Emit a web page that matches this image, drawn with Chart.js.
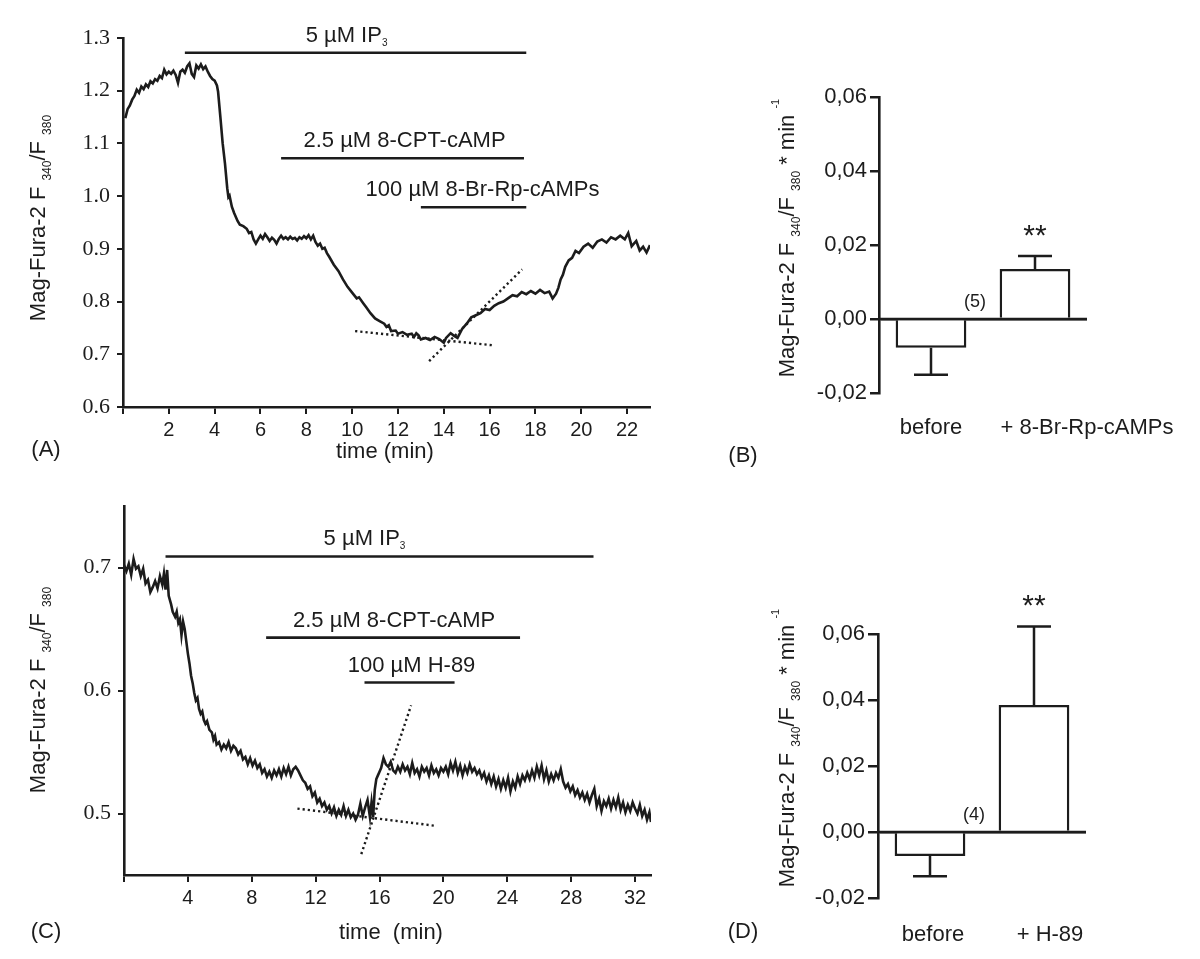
<!DOCTYPE html>
<html><head><meta charset="utf-8">
<script src="https://cdn.jsdelivr.net/npm/chart.js@4"></script>
<style>
body{margin:0;background:#fff;width:1200px;height:959px;position:relative;overflow:hidden}
canvas{position:absolute}
</style></head><body>
<canvas id="cA" width="660" height="480" style="left:0;top:0"></canvas>
<canvas id="cB" width="500" height="420" style="left:700px;top:60px"></canvas>
<canvas id="cC" width="660" height="479" style="left:0;top:480px"></canvas>
<canvas id="cD" width="500" height="399" style="left:700px;top:560px"></canvas>
<script>
// ---- panel A : IP3 + 8-CPT-cAMP + 8-Br-Rp-cAMPs trace
const timeA = [0.1,0.2,0.3,0.4,0.5,0.6,0.7,0.8,0.9,1.0,1.1,1.2,1.3,1.4,1.5,1.6,1.7,1.8,1.9,2.0,2.1,2.2,2.3,2.4,2.5,2.6,2.7,2.8,2.9,3.0,
  3.1,3.2,3.3,3.4,3.5,3.6,3.7,3.8,3.9,4.0,4.1,4.15,4.25,4.35,4.45,4.55,4.6,4.65,4.75,4.85,5.0,5.1,5.25,5.4,5.5,5.6,5.7,5.8,5.9,6.0,
  6.1,6.2,6.3,6.4,6.5,6.6,6.7,6.8,6.9,7.0,7.1,7.2,7.3,7.4,7.5,7.6,7.7,7.8,7.9,8.0,8.1,8.2,8.3,8.4,8.5,8.6,8.7,8.8,8.9,9.0,
  9.2,9.4,9.6,9.8,10.0,10.2,10.3,10.5,10.6,10.8,11.0,11.2,11.4,11.5,11.6,11.7,11.9,12.0,12.2,12.4,12.6,12.7,12.8,12.9,13.0,13.2,13.4,13.6,13.8,14.0,
  14.1,14.3,14.45,14.6,14.8,15.0,15.2,15.4,15.6,15.8,16.0,16.2,16.4,16.6,16.8,17.0,17.2,17.4,17.6,17.8,18.0,18.2,18.4,18.6,18.75,18.9,19.0,19.1,19.2,19.3,
  19.45,19.6,19.75,19.9,20.1,20.3,20.5,20.7,20.9,21.1,21.3,21.5,21.7,21.9,22.05,22.2,22.4,22.55,22.7,22.85,23.0];
const ratioA = [1.148,1.165,1.172,1.183,1.190,1.202,1.196,1.208,1.203,1.212,1.207,1.218,1.214,1.222,1.219,1.228,1.224,1.240,1.231,1.236,1.232,1.238,1.230,1.215,1.236,1.240,1.234,1.246,1.252,1.232,
  1.226,1.248,1.242,1.250,1.241,1.246,1.236,1.228,1.222,1.219,1.210,1.198,1.150,1.100,1.062,1.015,0.998,1.001,0.980,0.968,0.953,0.946,0.943,0.938,0.930,0.932,0.918,0.910,0.918,0.925,
  0.919,0.928,0.922,0.915,0.921,0.917,0.910,0.919,0.925,0.919,0.922,0.918,0.923,0.919,0.921,0.916,0.922,0.919,0.924,0.920,0.926,0.918,0.925,0.913,0.906,0.910,0.900,0.902,0.892,0.885,
  0.870,0.858,0.842,0.828,0.817,0.806,0.808,0.796,0.790,0.778,0.768,0.763,0.758,0.752,0.755,0.744,0.745,0.739,0.742,0.737,0.739,0.733,0.740,0.736,0.728,0.731,0.727,0.733,0.729,0.722,
  0.731,0.740,0.735,0.731,0.748,0.758,0.770,0.774,0.778,0.786,0.784,0.792,0.797,0.800,0.806,0.812,0.810,0.818,0.814,0.820,0.815,0.822,0.816,0.819,0.806,0.815,0.826,0.842,0.851,0.866,
  0.878,0.883,0.896,0.892,0.904,0.910,0.902,0.914,0.918,0.912,0.922,0.918,0.925,0.918,0.930,0.905,0.915,0.897,0.904,0.893,0.907];
const fitsA = [[10.13,0.744,16.16,0.717],[13.36,0.687,17.42,0.861]];
const drugsA = [
  {name:'5 µM IP', sub:'3', from:2.7, to:17.6, level:1.272},
  {name:'2.5 µM 8-CPT-cAMP', from:6.9, to:17.5, level:1.072},
  {name:'100 µM 8-Br-Rp-cAMPs', from:13.0, to:17.6, level:0.979}
];
const ticksAx = [0,2,4,6,8,10,12,14,16,18,20,22];
const labelsAx = ['','2','4','6','8','10','12','14','16','18','20','22'];
const ticksAy = [0.6,0.7,0.8,0.9,1.0,1.1,1.2,1.3];
const labelsAy = ['0.6','0.7','0.8','0.9','1.0','1.1','1.2','1.3'];

// ---- panel C : IP3 + 8-CPT-cAMP + H-89 trace
const timeC = [0.0,0.15,0.3,0.45,0.6,0.75,0.9,1.05,1.2,1.35,1.5,1.65,1.8,1.95,2.1,2.25,2.4,2.5,2.6,2.7,2.8,2.95,3.05,3.2,3.3,3.4,3.5,3.6,3.7,3.8,
  3.9,4.0,4.1,4.2,4.3,4.4,4.5,4.6,4.7,4.8,4.9,5.0,5.1,5.2,5.35,5.5,5.6,5.7,5.8,5.95,6.1,6.25,6.4,6.55,6.7,6.85,7.0,7.15,7.3,7.45,
  7.6,7.75,7.9,8.05,8.2,8.35,8.5,8.65,8.8,8.95,9.1,9.25,9.4,9.55,9.7,9.85,10.0,10.15,10.3,10.45,10.6,10.75,10.9,11.05,11.2,11.35,11.5,11.65,11.8,11.95,
  12.1,12.25,12.4,12.55,12.7,12.85,13.0,13.15,13.3,13.45,13.6,13.75,13.9,14.05,14.2,14.35,14.5,14.65,14.8,14.95,15.1,15.25,15.4,15.5,15.6,15.7,15.8,15.9,16.0,16.1,
  16.25,16.4,16.55,16.7,16.85,17.0,17.15,17.3,17.45,17.6,17.75,17.9,18.05,18.2,18.35,18.5,18.65,18.8,18.95,19.1,19.25,19.4,19.55,19.7,19.85,20.0,20.15,20.3,20.45,20.6,
  20.75,20.9,21.05,21.2,21.35,21.5,21.65,21.8,21.95,22.1,22.25,22.4,22.55,22.7,22.85,23.0,23.15,23.3,23.45,23.6,23.75,23.9,24.05,24.2,24.35,24.5,24.65,24.8,24.95,25.1,
  25.25,25.4,25.55,25.7,25.85,26.0,26.15,26.3,26.45,26.6,26.75,26.9,27.05,27.2,27.35,27.5,27.65,27.8,27.95,28.1,28.25,28.4,28.55,28.7,28.85,29.0,29.15,29.3,29.45,29.6,
  29.75,29.9,30.05,30.2,30.35,30.5,30.65,30.8,30.95,31.1,31.25,31.4,31.55,31.7,31.85,32.0,32.15,32.3,32.45,32.6,32.75,32.9,33.0];
const ratioC = [0.702,0.697,0.703,0.694,0.707,0.699,0.701,0.693,0.699,0.687,0.690,0.680,0.684,0.689,0.683,0.693,0.686,0.695,0.682,0.698,0.677,0.670,0.664,0.660,0.664,0.655,0.658,0.645,0.656,0.650,
  0.640,0.630,0.622,0.612,0.606,0.598,0.592,0.594,0.585,0.581,0.583,0.576,0.573,0.575,0.568,0.566,0.560,0.563,0.556,0.558,0.552,0.556,0.553,0.558,0.551,0.555,0.553,0.548,0.551,0.544,
  0.546,0.540,0.545,0.539,0.543,0.537,0.540,0.533,0.536,0.530,0.534,0.529,0.535,0.531,0.536,0.530,0.537,0.532,0.538,0.531,0.536,0.538,0.535,0.531,0.527,0.525,0.520,0.522,0.514,0.517,
  0.509,0.512,0.506,0.509,0.503,0.506,0.500,0.505,0.498,0.503,0.499,0.506,0.498,0.503,0.497,0.500,0.495,0.499,0.508,0.498,0.505,0.511,0.497,0.509,0.497,0.519,0.528,0.531,0.534,0.537,
  0.545,0.540,0.538,0.542,0.535,0.533,0.538,0.534,0.540,0.535,0.538,0.532,0.541,0.533,0.536,0.530,0.538,0.534,0.537,0.531,0.539,0.533,0.536,0.531,0.537,0.534,0.538,0.532,0.541,0.535,
  0.542,0.533,0.539,0.531,0.538,0.533,0.540,0.534,0.537,0.532,0.535,0.529,0.533,0.526,0.531,0.524,0.530,0.522,0.528,0.520,0.527,0.521,0.529,0.518,0.526,0.521,0.530,0.524,0.531,0.527,
  0.533,0.528,0.535,0.529,0.538,0.531,0.539,0.528,0.535,0.526,0.532,0.527,0.533,0.529,0.536,0.526,0.521,0.524,0.518,0.522,0.515,0.519,0.513,0.517,0.511,0.516,0.509,0.515,0.520,0.506,
  0.512,0.502,0.510,0.506,0.512,0.504,0.511,0.505,0.513,0.503,0.509,0.501,0.507,0.502,0.509,0.504,0.500,0.507,0.498,0.503,0.495,0.501,0.493];
const fitsC = [[10.86,0.504,19.5,0.490],[14.86,0.467,17.98,0.588]];
const drugsC = [
  {name:'5 µM IP', sub:'3', from:2.6, to:29.4, level:0.709},
  {name:'2.5 µM 8-CPT-cAMP', from:8.9, to:24.8, level:0.643},
  {name:'100 µM H-89', from:15.06, to:20.7, level:0.6065}
];
const ticksCx = [0,4,8,12,16,20,24,28,32];
const labelsCx = ['','4','8','12','16','20','24','28','32'];
const ticksCy = [0.5,0.6,0.7];
const labelsCy = ['0.5','0.6','0.7'];

// ---- panels B and D : rate of change, mean +/- SEM
const groupsB = ['before','+ 8-Br-Rp-cAMPs'];
const meanB = [-0.0078, 0.0135];
const semB = [0.0073, 0.0035];
const nB = '(5)';
const groupsD = ['before','+ H-89'];
const meanD = [-0.0073, 0.0385];
const semD = [0.0061, 0.0238];
const nD = '(4)';
const ticksBar = [-0.02,0,0.02,0.04,0.06];
const labelsBar = ['-0,02','0,00','0,02','0,04','0,06'];

const SANS = '"Liberation Sans", Arial, sans-serif';
const SERIF = '"Liberation Serif", "Times New Roman", serif';
const INK = '#1c1c1c';
Chart.defaults.color = INK;
Chart.defaults.font.family = SANS;

function drawRich(ctx, parts, x, y, rot) {
  ctx.save(); ctx.translate(x, y); ctx.rotate(rot || 0);
  ctx.textAlign = 'left'; ctx.textBaseline = 'alphabetic'; ctx.fillStyle = INK;
  let w = 0;
  parts.forEach(p => { ctx.font = p[1]+'px '+SANS; w += ctx.measureText(p[0]).width; });
  let cx = -w/2;
  parts.forEach(p => { ctx.font = p[1]+'px '+SANS; ctx.fillText(p[0], cx, p[2]||0); cx += ctx.measureText(p[0]).width; });
  ctx.restore();
}
function txt(ctx, s, x, y, size) {
  ctx.save(); ctx.font = size+'px '+SANS; ctx.fillStyle = INK;
  ctx.textAlign = 'center'; ctx.textBaseline = 'middle'; ctx.fillText(s, x, y); ctx.restore();
}
const yTitle = [['Mag-Fura-2 F ',22],['340',12,6],['/F ',22],['380',12,6]];
const yTitleRate = [['Mag-Fura-2 F ',22],['340',12,6],['/F ',22],['380',12,6],[' * min ',22],['-1',11,-15]];

function drugLabels(c, drugs, shift) {
  const xs = c.scales.x, ys = c.scales.y;
  drugs.forEach((d, i) => {
    const parts = [[d.name, 22]];
    if (d.sub) parts.push([d.sub, 10, 4]);
    drawRich(c.ctx, parts, xs.getPixelForValue((d.from+d.to)/2)+shift[i], ys.getPixelForValue(d.level)-11);
  });
}

function traceChart(id, time, ratio, fits, drugs, xmax, xt, xl, ymin, ymax, yt, yl, box, deco) {
  const line = {borderColor:INK, borderWidth:2.6, pointRadius:0, tension:0, fill:false};
  return new Chart(document.getElementById(id), {
    type:'line',
    data:{datasets:[
      {...line, data: time.map((t,i)=>({x:t, y:ratio[i]}))},
      ...fits.map(f=>({...line, borderWidth:2.4, borderDash:[2.2,3], data:[{x:f[0],y:f[1]},{x:f[2],y:f[3]}]})),
      ...drugs.map(d=>({...line, data:[{x:d.from,y:d.level},{x:d.to,y:d.level}]}))
    ]},
    options:{
      responsive:false, animation:false, devicePixelRatio:1,
      layout:{padding:{top:box.top, right:box.right, left:0, bottom:0}},
      plugins:{legend:{display:false}, tooltip:{enabled:false}},
      scales:{
        x:{type:'linear', min:0, max:xmax,
          afterBuildTicks:s=>{s.ticks = xt.map(v=>({value:v}));},
          afterFit:s=>{s.height = box.xh;},
          ticks:{callback:(v,i)=>xl[i], font:{size:20}, color:INK, padding:4, maxRotation:0, autoSkip:false},
          grid:{drawOnChartArea:false, color:INK, lineWidth:2, tickLength:7},
          border:{color:INK, width:2.6}},
        y:{min:ymin, max:ymax,
          afterBuildTicks:s=>{s.ticks = yt.map(v=>({value:v}));},
          afterFit:s=>{s.width = box.left;},
          ticks:{callback:(v,i)=>yl[i], font:{family:SERIF, size:22}, color:INK, padding:7, autoSkip:false},
          grid:{drawOnChartArea:false, color:INK, lineWidth:2, tickLength:6},
          border:{color:INK, width:2.6}}
      }
    },
    plugins:[{id:'deco'+id, afterDraw:deco}]
  });
}

function barChart(id, groups, mean, sem, n, box, deco) {
  return new Chart(document.getElementById(id), {
    type:'bar',
    data:{labels:groups, datasets:[{data:mean, backgroundColor:'#ffffff', borderColor:INK, borderWidth:2.5,
      borderSkipped:'start', barPercentage:0.68, categoryPercentage:1}]},
    options:{
      responsive:false, animation:false, devicePixelRatio:1,
      layout:{padding:{top:box.top, right:box.right, left:0, bottom:0}},
      plugins:{legend:{display:false}, tooltip:{enabled:false}},
      scales:{
        x:{ticks:{display:false}, grid:{display:false, drawTicks:false}, border:{display:false},
          afterFit:s=>{s.height = box.xh;}},
        y:{min:-0.02, max:0.06,
          afterBuildTicks:s=>{s.ticks = ticksBar.map(v=>({value:v}));},
          afterFit:s=>{s.width = box.left;},
          ticks:{callback:(v,i)=>labelsBar[i], font:{size:22}, color:INK, padding:3, autoSkip:false},
          grid:{color:c=>(c.tick && c.tick.value===0) ? INK : 'rgba(0,0,0,0)', tickColor:INK, lineWidth:2.5, tickLength:box.tl},
          border:{color:INK, width:2.6}}
      }
    },
    plugins:[{id:'err'+id, afterDatasetsDraw(c){
      const ctx = c.ctx, xs = c.scales.x, ys = c.scales.y;
      ctx.save(); ctx.strokeStyle = INK; ctx.lineWidth = 2.5;
      // zero line redrawn over the bar bases
      ctx.beginPath(); ctx.moveTo(c.chartArea.left, Math.round(ys.getPixelForValue(0))); ctx.lineTo(c.chartArea.right, Math.round(ys.getPixelForValue(0))); ctx.stroke();
      mean.forEach((m,i)=>{
        const x = xs.getPixelForValue(i), y0 = ys.getPixelForValue(m);
        const y1 = ys.getPixelForValue(m + (m<0 ? -sem[i] : sem[i]));
        ctx.beginPath(); ctx.moveTo(x, y0); ctx.lineTo(x, y1);
        ctx.moveTo(x-17, y1); ctx.lineTo(x+17, y1); ctx.stroke();
        if (m > 0) {
          ctx.font = '30px '+SANS; ctx.fillStyle = INK; ctx.textAlign = 'center'; ctx.textBaseline = 'alphabetic';
          ctx.fillText('**', x, y1 - 11);
        }
      });
      ctx.restore();
      txt(ctx, n, xs.getPixelForValue(0.5) - 8, ys.getPixelForValue(0) - 17, 18);
    }, afterDraw:deco}]
  });
}

traceChart('cA', timeA, ratioA, fitsA, drugsA, 23, ticksAx, labelsAx, 0.6, 1.3, ticksAy, labelsAy,
  {left:123, top:38, right:10, xh:73}, c=>{
    drugLabels(c, drugsA, [-9, 2, 9]);
    drawRich(c.ctx, yTitle, 45, 218, -Math.PI/2);
    txt(c.ctx, 'time (min)', 385, 452, 22);
    txt(c.ctx, '(A)', 46, 450, 22);
  });

traceChart('cC', timeC, ratioC, fitsC, drugsC, 33, ticksCx, labelsCx, 0.45, 0.75, ticksCy, labelsCy,
  {left:124, top:26, right:9, xh:84}, c=>{
    drugLabels(c, drugsC, [-15, 1, 2]);
    drawRich(c.ctx, yTitle, 45, 210, -Math.PI/2);
    txt(c.ctx, 'time  (min)', 391, 453, 22);
    txt(c.ctx, '(C)', 46, 452, 22);
  });

barChart('cB', groupsB, meanB, semB, nB, {left:179, top:37, right:113, xh:87, tl:9}, c=>{
  const xs = c.scales.x, shift = [0, 52];
  groupsB.forEach((g,i)=>txt(c.ctx, g, xs.getPixelForValue(i)+shift[i], 368, 22));
  drawRich(c.ctx, yTitleRate, 94, 178, -Math.PI/2);
  txt(c.ctx, '(B)', 43, 396, 22);
});

barChart('cD', groupsD, meanD, semD, nD, {left:178, top:74, right:114, xh:61, tl:10}, c=>{
  const xs = c.scales.x, shift = [3, 16];
  groupsD.forEach((g,i)=>txt(c.ctx, g, xs.getPixelForValue(i)+shift[i], 375, 22));
  drawRich(c.ctx, yTitleRate, 94, 188, -Math.PI/2);
  txt(c.ctx, '(D)', 43, 372, 22);
});
</script>
</body></html>
